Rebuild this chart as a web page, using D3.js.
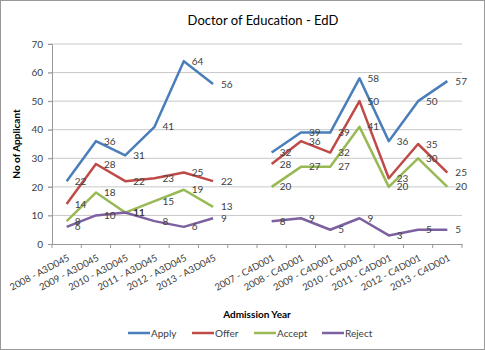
<!DOCTYPE html>
<html>
<head>
<meta charset="utf-8">
<script src="https://cdn.jsdelivr.net/npm/d3@7"></script>
<style>
  body { margin: 0; background: #fff; }
  svg { display: block; font-family: Lato, "Open Sans", sans-serif; }
</style>
</head>
<body>
<svg width="485" height="350"></svg>
<script>
const categories = [
    "2008 - A3D045", "2009 - A3D045", "2010 - A3D045", "2011 - A3D045",
    "2012 - A3D045", "2013 - A3D045", "",
    "2007 - C4D001", "2008 - C4D001", "2009 - C4D001", "2010 - C4D001",
    "2011 - C4D001", "2012 - C4D001", "2013 - C4D001"
];
const apply = [22, 36, 31, 41, 64, 56, null, 32, 39, 39, 58, 36, 50, 57];
const offer = [14, 28, 22, 23, 25, 22, null, 28, 36, 32, 50, 23, 35, 25];
const accept = [8, 18, 11, 15, 19, 13, null, 20, 27, 27, 41, 20, 30, 20];
const reject = [6, 10, 11, 8, 6, 9, null, 8, 9, 5, 9, 3, 5, 5];
const yTicks = [0, 10, 20, 30, 40, 50, 60, 70];

const series = [
    { name: "Apply", values: apply, color: "#4a7ebb" },
    { name: "Offer", values: offer, color: "#be4b48" },
    { name: "Accept", values: accept, color: "#98b954" },
    { name: "Reject", values: reject, color: "#7d60a0" }
];

const svg = d3.select("svg");
const margin = { top: 44, right: 23, bottom: 106, left: 52 };
const W = 485, H = 350;

// outer chart border
svg.append("rect").attr("x", 0.5).attr("y", 0.5).attr("width", W - 1).attr("height", H - 1)
    .attr("fill", "#fff").attr("stroke", "#999").attr("stroke-width", 1);

const x = d3.scaleBand().domain(d3.range(categories.length))
    .range([margin.left, W - margin.right]);
const y = d3.scaleLinear().domain([0, 70]).range([H - margin.bottom, margin.top]);

// gridlines
svg.append("g").selectAll("line").data(yTicks.slice(1)).join("line")
    .attr("x1", margin.left - 4).attr("x2", W - margin.right)
    .attr("y1", d => y(d)).attr("y2", d => y(d))
    .attr("stroke", "#c8c8c8").attr("stroke-width", 1);

// y axis
const yAxis = svg.append("g").attr("transform", `translate(${margin.left},0)`)
    .call(d3.axisLeft(y).tickValues(yTicks).tickSize(4).tickPadding(5));
yAxis.select(".domain").attr("stroke", "#999");
yAxis.selectAll(".tick line").attr("stroke", "#999");
yAxis.selectAll("text").attr("fill", "#404040").style("font-size", "10px")
    .style("font-family", "Lato, sans-serif");

// x axis
const xAxis = svg.append("g").attr("transform", `translate(0,${y(0)})`)
    .call(d3.axisBottom(x).tickSize(0).tickFormat(""));
xAxis.select(".domain").attr("stroke", "#999");
svg.append("g").selectAll("line").data(d3.range(categories.length + 1)).join("line")
    .attr("x1", i => i < categories.length ? x(i) : x(i - 1) + x.bandwidth())
    .attr("x2", i => i < categories.length ? x(i) : x(i - 1) + x.bandwidth())
    .attr("y1", y(0)).attr("y2", y(0) + 4)
    .attr("stroke", "#999");

svg.append("g").selectAll("text").data(categories).join("text")
    .attr("transform", (d, i) => `translate(${x(i) + x.bandwidth() / 2 + 2},${y(0) + 13}) rotate(-28)`)
    .attr("text-anchor", "end")
    .attr("dy", "0.35em")
    .attr("fill", "#404040")
    .style("font-size", "9.5px")
    .text(d => d);

// lines
const line = d3.line()
    .defined(d => d.v !== null)
    .x(d => x(d.i) + x.bandwidth() / 2)
    .y(d => y(d.v));

series.forEach(s => {
    const pts = s.values.map((v, i) => ({ v, i }));
    svg.append("path").datum(pts)
        .attr("d", line)
        .attr("fill", "none")
        .attr("stroke", s.color)
        .attr("stroke-width", 2.5)
        .attr("stroke-linejoin", "round");
});

// data labels
series.forEach(s => {
    const pts = s.values.map((v, i) => ({ v, i })).filter(d => d.v !== null);
    svg.append("g").selectAll("text").data(pts).join("text")
        .attr("x", d => x(d.i) + x.bandwidth() / 2 + 8)
        .attr("y", d => y(d.v))
        .attr("dy", "0.35em")
        .attr("fill", "#404040")
        .style("font-size", "10px")
        .text(d => d.v);
});

// title
svg.append("text").attr("x", 263).attr("y", 25).attr("text-anchor", "middle")
    .attr("fill", "#000").style("font-size", "13px")
    .text("Doctor of Education - EdD");

// axis titles
svg.append("text").attr("x", 257).attr("y", 318).attr("text-anchor", "middle")
    .style("font-size", "10px").style("font-weight", "bold").attr("fill", "#000")
    .text("Admission Year");
svg.append("text").attr("transform", "translate(20,144) rotate(-90)")
    .attr("text-anchor", "middle")
    .style("font-size", "10px").style("font-weight", "bold").attr("fill", "#000")
    .text("No of Applicant");

// legend
const legendX = [128, 192, 254, 322];
const legend = svg.append("g").selectAll("g").data(series).join("g")
    .attr("transform", (d, i) => `translate(${legendX[i]},333)`);
legend.append("line").attr("x1", 0).attr("x2", 22).attr("y1", 0).attr("y2", 0)
    .attr("stroke", d => d.color).attr("stroke-width", 2.5);
legend.append("text").attr("x", 23).attr("dy", "0.35em")
    .attr("fill", "#404040").style("font-size", "10px")
    .text(d => d.name);
</script>
</body>
</html>
